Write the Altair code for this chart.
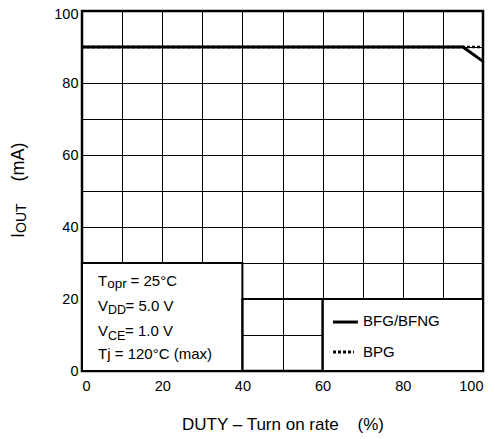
import altair as alt
import pandas as pd

# Data
duty_bfg = [0, 95, 100]
iout_bfg = [90, 90, 86]
duty_bpg = [0, 100]
iout_bpg = [90, 90]

grid_vals = list(range(0, 101, 10))

W, H = 401, 360
FONT = "Liberation Sans"
NB = "\u00a0"

xs = alt.Scale(domain=[0, 100], nice=False, zero=False)
ys = alt.Scale(domain=[0, 100], nice=False, zero=False)

ax_common = dict(values=grid_vals, title=None, ticks=False, domain=False,
                 labelExpr="datum.value % 20 == 0 ? datum.label : ''",
                 labelFontSize=14.5, labelFont=FONT, labelColor="black",
                 grid=True, gridColor="black", gridWidth=1, gridOpacity=1)
X = lambda f="x:Q": alt.X(f, scale=xs, axis=alt.Axis(labelPadding=8, **ax_common))
Y = lambda f="y:Q": alt.Y(f, scale=ys, axis=alt.Axis(
    labelPadding=4,
    labelOffset={"condition": {"test": "datum.value == 100", "value": 3}, "value": 0},
    **ax_common))

df_bfg = pd.DataFrame({"x": duty_bfg, "y": iout_bfg})
df_bpg = pd.DataFrame({"x": duty_bpg, "y": iout_bpg})

# Boxes (white annotation panels)
white_boxes = pd.DataFrame({"x": [0, 60], "x2": [40, 100], "y": [0, 0], "y2": [30, 20]})
mid_box = pd.DataFrame({"x": [40], "x2": [60], "y": [0], "y2": [20]})
box_layer = alt.Chart(white_boxes).mark_rect(stroke="black", strokeWidth=2, fill="white").encode(
    x=X(), x2="x2:Q", y=Y(), y2="y2:Q")
mid_layer = alt.Chart(mid_box).mark_rect(stroke="black", strokeWidth=2, fillOpacity=0).encode(
    x=X(), x2="x2:Q", y=Y(), y2="y2:Q")

bpg_line = alt.Chart(df_bpg).mark_line(color="black", strokeWidth=2.5, strokeDash=[3, 2]).encode(
    x=X(), y=Y())
bfg_line = alt.Chart(df_bfg).mark_line(color="black", strokeWidth=3).encode(x=X(), y=Y())

# Condition text pieces
cond = [
    ("T", 23.7, 0, 15, 0), ("opr", 23.7, 9.2, 13.5, 2), (NB + "= 25°C", 23.7, 32.5, 15, 0),
    ("V", 16.7, 0, 15, 0), ("DD", 16.7, 10, 12.5, 3.5), (NB + "= 5.0 V", 16.7, 27.5, 15, 0),
    ("V", 9.7, 0, 15, 0), ("CE", 9.7, 10, 12.5, 3.5), (NB + "= 1.0 V", 9.7, 27, 15, 0),
    ("Tj = 120°C (max)", 3.3, 0, 15, 0),
]
cond_layers = []
for t, yv, dx, size, dy in cond:
    cond_layers.append(alt.Chart(pd.DataFrame({"x": [4.0], "y": [yv], "t": [t]})).mark_text(
        align="left", baseline="alphabetic", fontSize=size, font=FONT, color="black",
        dx=dx, dy=dy).encode(x=X(), y=Y(), text="t:N"))

# Legend
leg_solid = alt.Chart(pd.DataFrame({"x": [62.6], "x2": [68.8], "y": [13.6]})).mark_rule(
    color="black", strokeWidth=3).encode(x=X(), x2="x2:Q", y=Y())
leg_dot = alt.Chart(pd.DataFrame({"x": [62.6], "x2": [67.8], "y": [5.3]})).mark_rule(
    color="black", strokeWidth=3, strokeDash=[3, 2]).encode(x=X(), x2="x2:Q", y=Y())
leg_text = alt.Chart(pd.DataFrame({"x": [70.1, 70.1], "y": [13.8, 5.3], "t": ["BFG/BFNG", "BPG"]})).mark_text(
    align="left", baseline="middle", fontSize=15, font=FONT, color="black").encode(
    x=X(), y=Y(), text="t:N")

# Axis titles
xtitle = alt.Chart(pd.DataFrame({"t": ["DUTY – Turn on rate" + NB * 4 + "(%)"]})).mark_text(
    align="center", baseline="middle", fontSize=17, font=FONT, color="black").encode(
    x=alt.value(201), y=alt.value(414), text="t:N")
ytitle_i = alt.Chart(pd.DataFrame({"t": ["I"]})).mark_text(
    align="left", baseline="middle", angle=270, fontSize=18, font=FONT, color="black").encode(
    x=alt.value(-63), y=alt.value(227), text="t:N")
ytitle_out = alt.Chart(pd.DataFrame({"t": ["OUT"]})).mark_text(
    align="left", baseline="middle", angle=270, fontSize=14, font=FONT, color="black").encode(
    x=alt.value(-60), y=alt.value(222), text="t:N")
ytitle_ma = alt.Chart(pd.DataFrame({"t": ["(mA)"]})).mark_text(
    align="center", baseline="middle", angle=270, fontSize=18, font=FONT, color="black").encode(
    x=alt.value(-63), y=alt.value(151), text="t:N")

chart = alt.layer(
    box_layer, mid_layer, bpg_line, bfg_line, *cond_layers, leg_solid, leg_dot, leg_text,
    xtitle, ytitle_i, ytitle_out, ytitle_ma,
).properties(
    width=W, height=H,
    autosize=alt.AutoSizeParams(type="none"),
    padding={"left": 74, "top": 3, "right": 2, "bottom": 66},
).configure_view(stroke="black", strokeWidth=2.5)

chart.save("out.html", embed_options={"renderer": "svg", "actions": False})
